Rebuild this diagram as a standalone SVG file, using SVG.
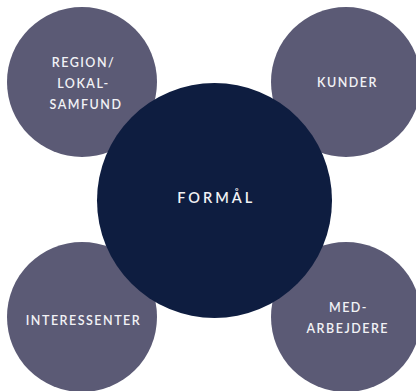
<svg xmlns="http://www.w3.org/2000/svg" width="416" height="391" viewBox="0 0 416 391">
<style>
.sat{fill:#5b5a75}
.core{fill:#0e1d40}
.t{font-family:Lato,"Noto Sans","Liberation Sans",sans-serif;font-weight:600;fill:#f2f2f5;text-anchor:middle;font-size:12.5px;letter-spacing:1.5px}
.tc{font-size:14.5px;letter-spacing:3px}
</style>
<rect width="416" height="391" fill="#ffffff"/>
<g id="connectors"></g>
<g id="region"><circle class="sat" cx="82" cy="82" r="75"/>
<text class="t" x="83.5" y="66.5">REGION/</text>
<text class="t" x="83.5" y="88.3">LOKAL-</text>
<text class="t" x="86" y="109.3">SAMFUND</text></g>
<g id="kunder"><circle class="sat" cx="346" cy="82" r="75"/>
<text class="t" x="347.5" y="87.3">KUNDER</text></g>
<g id="interessenter"><circle class="sat" cx="82" cy="317" r="75"/>
<text class="t" x="83.5" y="325">INTERESSENTER</text></g>
<g id="medarbejdere"><circle class="sat" cx="346" cy="317" r="75"/>
<text class="t" x="348.5" y="312.3">MED-</text>
<text class="t" x="347.8" y="333.3">ARBEJDERE</text></g>
<g id="formaal"><circle class="core" cx="214.5" cy="200.5" r="117.5"/>
<text class="t tc" x="216.2" y="202.9">FORMÅL</text></g>
</svg>
